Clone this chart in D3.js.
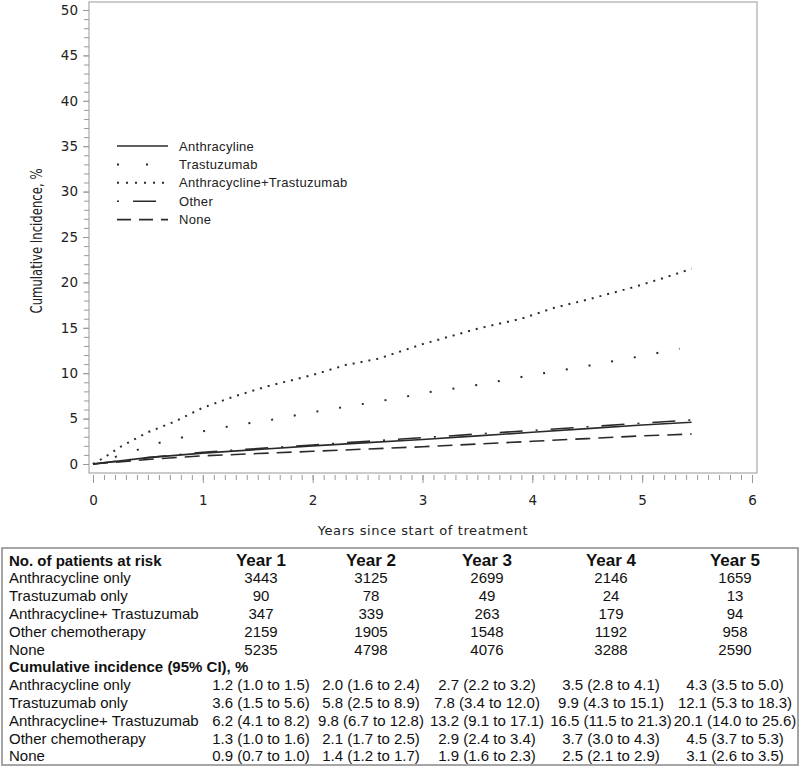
<!DOCTYPE html>
<html>
<head>
<meta charset="utf-8">
<script src="https://cdn.jsdelivr.net/npm/d3@7"></script>
<style>
  body { margin: 0; background: #fff; }
  svg { display: block; }
</style>
</head>
<body>
<div id="chart"></div>
<script>
// Curve readings (years, cumulative incidence %)
var anthraT   = [0, 0.5, 1, 1.5, 2, 2.5, 3, 3.5, 4, 4.5, 5, 5.45],
    anthraV   = [0, 0.7, 1.2, 1.6, 2.0, 2.35, 2.7, 3.1, 3.5, 3.9, 4.3, 4.6];
var trastT    = [0, 0.18, 0.37, 0.55, 0.75, 1.0, 1.35, 1.55, 2.0, 2.4, 2.8, 3.0, 3.5, 4.0, 4.5, 5.0, 5.34],
    trastV    = [0, 0.7, 1.4, 2.2, 2.7, 3.6, 4.4, 4.7, 5.7, 6.5, 7.3, 7.8, 8.7, 9.8, 10.8, 11.9, 12.7];
var comboT    = [0, 0.1, 0.25, 0.5, 0.75, 1.0, 1.3, 1.6, 2.0, 2.3, 2.6, 3.0, 3.5, 3.9, 4.2, 4.5, 4.9, 5.2, 5.45],
    comboV    = [0, 0.7, 1.9, 3.5, 4.7, 6.2, 7.5, 8.6, 9.8, 10.9, 11.6, 13.2, 14.9, 16.0, 17.2, 18.1, 19.4, 20.5, 21.5];
var otherT    = [0, 0.5, 1, 1.5, 2, 2.5, 3, 3.5, 4, 4.5, 5, 5.45],
    otherV    = [0, 0.7, 1.3, 1.7, 2.1, 2.5, 2.9, 3.3, 3.7, 4.1, 4.5, 4.85];
var noneT     = [0, 0.5, 1, 1.5, 2, 2.5, 3, 3.5, 4, 4.5, 5, 5.45],
    noneV     = [0, 0.5, 0.9, 1.15, 1.4, 1.65, 1.9, 2.2, 2.5, 2.8, 3.1, 3.3];

var legendLabels = ["Anthracyline", "Trastuzumab", "Anthracycline+Trastuzumab", "Other", "None"];

// Table below the plot
var tableYears  = ["Year 1", "Year 2", "Year 3", "Year 4", "Year 5"];
var groupNames  = ["Anthracycline only", "Trastuzumab only", "Anthracycline+ Trastuzumab", "Other chemotherapy", "None"];
var atRisk = [
  [3443, 3125, 2699, 2146, 1659],
  [90, 78, 49, 24, 13],
  [347, 339, 263, 179, 94],
  [2159, 1905, 1548, 1192, 958],
  [5235, 4798, 4076, 3288, 2590]
];
var incidence = [
  ["1.2 (1.0 to 1.5)", "2.0 (1.6 to 2.4)", "2.7 (2.2 to 3.2)", "3.5 (2.8 to 4.1)", "4.3 (3.5 to 5.0)"],
  ["3.6 (1.5 to 5.6)", "5.8 (2.5 to 8.9)", "7.8 (3.4 to 12.0)", "9.9 (4.3 to 15.1)", "12.1 (5.3 to 18.3)"],
  ["6.2 (4.1 to 8.2)", "9.8 (6.7 to 12.8)", "13.2 (9.1 to 17.1)", "16.5 (11.5 to 21.3)", "20.1 (14.0 to 25.6)"],
  ["1.3 (1.0 to 1.6)", "2.1 (1.7 to 2.5)", "2.9 (2.4 to 3.4)", "3.7 (3.0 to 4.3)", "4.5 (3.7 to 5.3)"],
  ["0.9 (0.7 to 1.0)", "1.4 (1.2 to 1.7)", "1.9 (1.6 to 2.3)", "2.5 (2.1 to 2.9)", "3.1 (2.6 to 3.5)"]
];

// Build series with their line styles
function zip(t, v) { return t.map(function(d, i) { return [d, v[i]]; }); }
var series = [
  { pts: zip(anthraT, anthraV), dash: null,           width: 1.6 },
  { pts: zip(trastT, trastV),   dash: "2,21",         width: 2 },
  { pts: zip(comboT, comboV),   dash: "2,6",          width: 2 },
  { pts: zip(otherT, otherV),   dash: "23,13,2,13",   width: 1.6 },
  { pts: zip(noneT, noneV),     dash: "15,8",         width: 1.6 }
];
var legendDash = [null, "2,27", "2,7", "2,14,23,14", "14,8"];

var W = 800, H = 766;
var svg = d3.select("#chart").append("svg")
  .attr("width", W).attr("height", H);

var x = d3.scaleLinear().domain([0, 6]).range([93, 752]);
var y = d3.scaleLinear().domain([0, 50]).range([464, 10]);

var axisFont = "'DejaVu Sans', Verdana, sans-serif";
var ink = "#222";

// plot frame
svg.append("rect")
  .attr("x", 89).attr("y", 2)
  .attr("width", 668).attr("height", 471)
  .attr("fill", "none").attr("stroke", "#aaa").attr("stroke-width", 1.2);

// y axis: minor + major ticks
var yMinor = svg.append("g").attr("transform", "translate(89,0)")
  .call(d3.axisLeft(y).tickValues(d3.range(0, 51, 1)).tickSize(5).tickFormat(""));
var yMajor = svg.append("g").attr("transform", "translate(89,0)")
  .call(d3.axisLeft(y).tickValues(d3.range(0, 51, 5)).tickSize(6).tickPadding(5));
[yMinor, yMajor].forEach(function(g) {
  g.select(".domain").remove();
  g.selectAll("line").attr("stroke", "#999");
});
yMajor.selectAll("text")
  .attr("font-family", axisFont).attr("font-size", "13.5px").attr("fill", ink);

// x axis: hangs below frame
var xMinor = svg.append("g").attr("transform", "translate(0,475)")
  .call(d3.axisBottom(x).tickValues(d3.range(0, 61).map(function(d) { return d / 10; })).tickSize(5).tickFormat(""));
var xMajor = svg.append("g").attr("transform", "translate(0,475)")
  .call(d3.axisBottom(x).tickValues(d3.range(0, 7)).tickFormat(d3.format("d")).tickSize(8).tickPadding(12));
[xMinor, xMajor].forEach(function(g) {
  g.select(".domain").remove();
  g.selectAll("line").attr("stroke", "#999");
});
xMajor.selectAll("text")
  .attr("font-family", axisFont).attr("font-size", "13.5px").attr("fill", ink);

// axis titles
svg.append("text")
  .attr("x", 423).attr("y", 535)
  .attr("text-anchor", "middle")
  .attr("font-family", axisFont).attr("font-size", "13px")
  .attr("letter-spacing", "0.6px").attr("fill", ink)
  .text("Years since start of treatment");

svg.append("text")
  .attr("transform", "translate(42,241) rotate(-90)")
  .attr("text-anchor", "middle")
  .attr("font-family", "'Liberation Sans Narrow', 'DejaVu Sans Condensed', sans-serif")
  .attr("font-size", "15px").attr("fill", ink)
  .attr("textLength", 145).attr("lengthAdjust", "spacingAndGlyphs")
  .text("Cumulative Incidence, %");

// curves
var line = d3.line()
  .x(function(d) { return x(d[0]); })
  .y(function(d) { return y(d[1]); });

svg.append("g").selectAll("path")
  .data(series)
  .enter().append("path")
    .attr("d", function(d) { return line(d.pts); })
    .attr("fill", "none")
    .attr("stroke", "#2a2a2a")
    .attr("stroke-width", function(d) { return d.width; })
    .attr("stroke-dasharray", function(d) { return d.dash; });

// legend
var legend = svg.append("g").selectAll("g")
  .data(legendLabels)
  .enter().append("g")
    .attr("transform", function(d, i) { return "translate(117," + (146 + i * 18.4) + ")"; });

legend.append("line")
  .attr("x1", 0).attr("x2", 51).attr("y1", 0).attr("y2", 0)
  .attr("stroke", "#2a2a2a")
  .attr("stroke-width", function(d, i) { return series[i].width; })
  .attr("stroke-dasharray", function(d, i) { return legendDash[i]; });

legend.append("text")
  .attr("x", 62).attr("y", 4.5)
  .attr("font-family", "'Liberation Sans', Arial, sans-serif")
  .attr("font-size", "13px").attr("letter-spacing", "0.3px")
  .attr("fill", ink)
  .text(function(d) { return d; });

// table
var tableFont = "'Liberation Sans', Arial, sans-serif";
var colX = [261, 371, 487, 611, 735];
var rowY = function(i) { return 560 + i * 17.8; };

svg.append("rect")
  .attr("x", 2).attr("y", 548)
  .attr("width", 796).attr("height", 217)
  .attr("fill", "none").attr("stroke", "#888").attr("stroke-width", 1.5);

var tbl = svg.append("g")
  .attr("font-family", tableFont).attr("fill", "#111");

tbl.append("text")
  .attr("x", 9).attr("y", rowY(0) + 5.5)
  .attr("font-size", "15px").attr("font-weight", "bold")
  .text("No. of patients at risk");

tbl.selectAll("text.yr")
  .data(tableYears)
  .enter().append("text")
    .attr("class", "yr")
    .attr("x", function(d, i) { return colX[i]; })
    .attr("y", rowY(0) + 6)
    .attr("text-anchor", "middle")
    .attr("font-size", "17px").attr("font-weight", "bold")
    .text(function(d) { return d; });

tbl.append("text")
  .attr("x", 9).attr("y", rowY(6) + 5.5)
  .attr("font-size", "15px").attr("font-weight", "bold")
  .text("Cumulative incidence (95% CI), %");

function drawBlock(values, start) {
  groupNames.forEach(function(name, r) {
    tbl.append("text")
      .attr("x", 9).attr("y", rowY(start + r) + 5.5)
      .attr("font-size", "15px")
      .text(name);
    tbl.selectAll(null)
      .data(values[r])
      .enter().append("text")
        .attr("x", function(d, i) { return colX[i]; })
        .attr("y", rowY(start + r) + 5.5)
        .attr("text-anchor", "middle")
        .attr("font-size", "15px")
        .text(function(d) { return d; });
  });
}
drawBlock(atRisk, 1);
drawBlock(incidence, 7);
</script>
</body>
</html>
